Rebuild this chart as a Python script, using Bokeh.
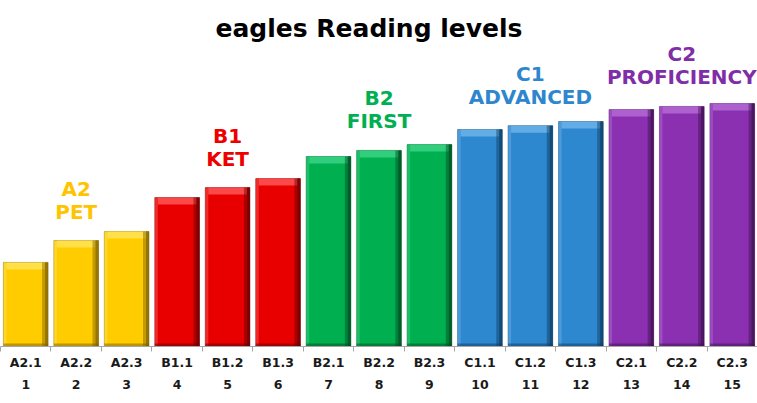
from bokeh.plotting import figure
from bokeh.models import Range1d, FixedTicker, Label, ColumnDataSource
from bokeh.core.properties import value
from bokeh.embed import file_html
from bokeh.resources import INLINE

# ---- data ----
levels = ["A2.1", "A2.2", "A2.3", "B1.1", "B1.2", "B1.3", "B2.1", "B2.2", "B2.3",
          "C1.1", "C1.2", "C1.3", "C2.1", "C2.2", "C2.3"]
numbers = list(range(1, 16))
scores = [34.6, 43.6, 47.3, 61.3, 65.4, 69.1, 78.2, 80.7, 83.1, 89.3, 90.9, 92.6, 97.5, 98.8, 100.0]
groups = ["A2", "A2", "A2", "B1", "B1", "B1", "B2", "B2", "B2", "C1", "C1", "C1", "C2", "C2", "C2"]
group_names = ["A2", "B1", "B2", "C1", "C2"]
group_titles = ["PET", "KET", "FIRST", "ADVANCED", "PROFICIENCY"]
title_text = "eagles Reading levels"

# ---- styles ----
base_col = {"A2": "#FFCC00", "B1": "#E80000", "B2": "#00B050", "C1": "#2E88D0", "C2": "#8A30B0"}
light_col = {"A2": "#FFE55A", "B1": "#FF5A5A", "B2": "#3CD688", "C1": "#70B6EC", "C2": "#B66ED6"}
dark_col = {"A2": "#7A5E00", "B1": "#640000", "B2": "#004A1E", "C1": "#0C3A60", "C2": "#3A0F4E"}
text_col = {"A2": "#FFC400", "B1": "#EE0000", "B2": "#00B050", "C1": "#2E86CF", "C2": "#7F2EA8"}

FW, FH = 757, 346
Y_END = 142.4
px = Y_END / FH          # data units per pixel (vertical)
xpx = 15.0 / FW          # data units per pixel (horizontal)
W = 0.885

p = figure(width=FW, frame_width=FW, frame_height=FH, output_backend="svg",
           toolbar_location=None, y_axis_location=None,
           x_range=Range1d(0.5, 15.5), y_range=Range1d(0, Y_END),
           min_border=0, min_border_left=0, min_border_right=0, min_border_top=0)
p.outline_line_color = None
p.grid.visible = False
p.background_fill_color = "white"
p.border_fill_color = "white"

src = ColumnDataSource(dict(
    x=numbers, top=scores,
    base=[base_col[g] for g in groups],
    light=[light_col[g] for g in groups],
    dark=[dark_col[g] for g in groups],
    bevel_bottom=[s - 7 * px for s in scores],
    x_right=[n + W / 2 - 3 * xpx for n in numbers],
    x_right2=[n + W / 2 - 1.5 * xpx for n in numbers],
    x_left=[n - W / 2 + 1.5 * xpx for n in numbers],
))

# main bar body
p.vbar(x="x", top="top", bottom=0, width=W, source=src,
       fill_color="base", line_color="dark", line_width=0.8, line_alpha=0.6)
# top bevel highlight
p.vbar(x="x", top="top", bottom="bevel_bottom", width=W - 6 * xpx, source=src,
       fill_color="light", fill_alpha=0.8, line_color=None)
# right shading
p.vbar(x="x_right", top="top", bottom=0, width=6 * xpx, source=src,
       fill_color="dark", fill_alpha=0.45, line_color=None)
p.vbar(x="x_right2", top="top", bottom=0, width=3 * xpx, source=src,
       fill_color="dark", fill_alpha=0.6, line_color=None)
# left light edge
p.vbar(x="x_left", top="top", bottom=0, width=3 * xpx, source=src,
       fill_color="light", fill_alpha=0.45, line_color=None)
# bottom dark edge
p.vbar(x="x", top=3 * px, bottom=0, width=W, source=src,
       fill_color="dark", fill_alpha=0.5, line_color=None)

# group labels above middle bar of each group
gx, gy1, gy2, gc, l1, l2 = [], [], [], [], [], []
for name, sub in zip(group_names, group_titles):
    idx = [i for i, g in enumerate(groups) if g == name]
    mid = idx[len(idx) // 2]
    gx.append(numbers[mid])
    gy2.append(scores[mid] + 29 * px)
    gy1.append(scores[mid] + 52 * px)
    gc.append(text_col[name])
    l1.append(name)
    l2.append(sub)
for ys, txt in ((gy1, l1), (gy2, l2)):
    p.text(x=gx, y=ys, text=txt, text_color=gc, text_align="center",
           text_baseline="alphabetic", text_font=value("DejaVu Sans"),
           text_font_style="bold", text_font_size="20px")

# title
p.add_layout(Label(x=8 - 10 * xpx, y=Y_END - 28 * px, text=title_text, text_align="center",
                   text_baseline="middle", text_font="DejaVu Sans",
                   text_font_style="bold", text_font_size="25px", text_color="black"))

# x axis
ax = p.xaxis[0]
ax.ticker = FixedTicker(ticks=numbers, minor_ticks=[n - 0.5 for n in numbers] + [15.5])
ax.major_label_overrides = {n: f"{lab}\n{n}" for n, lab in zip(numbers, levels)}
ax.major_tick_line_color = None
ax.major_tick_out = 0
ax.major_tick_in = 0
ax.minor_tick_out = 5
ax.minor_tick_in = 0
ax.minor_tick_line_color = "#A6A6A6"
ax.axis_line_color = "#A6A6A6"
ax.major_label_standoff = 3
ax.major_label_text_font = "DejaVu Sans"
ax.major_label_text_font_style = "bold"
ax.major_label_text_font_size = "12.5px"
ax.major_label_text_color = "#1A1A1A"
ax.major_label_text_line_height = 1.5

open("out.html", "w").write(file_html(p, INLINE))
